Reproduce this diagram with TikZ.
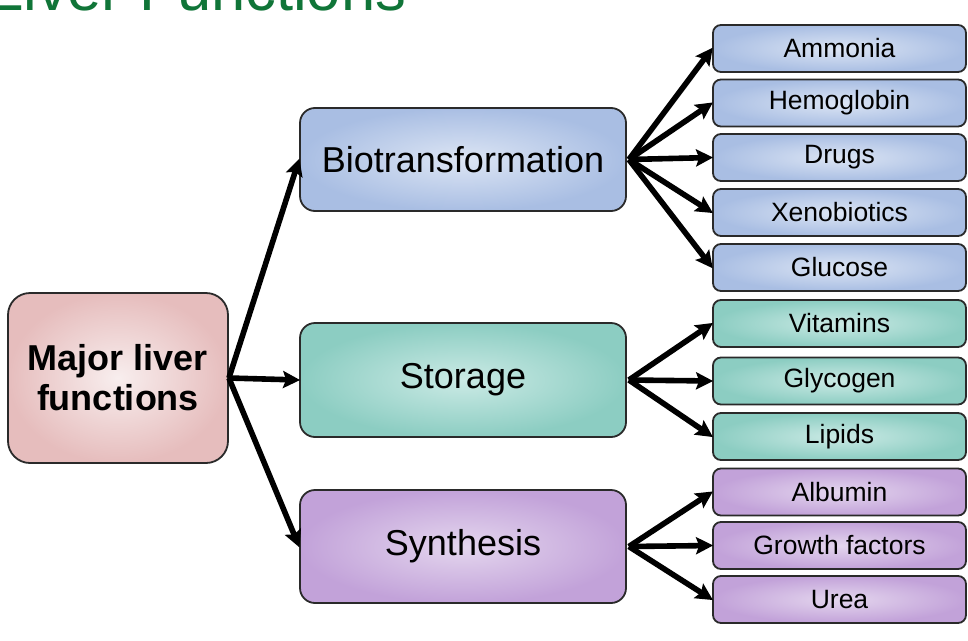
\documentclass[tikz,border=0pt]{standalone}
\usepackage{fontspec}
\setmainfont{Liberation Sans}
\usetikzlibrary{arrows.meta}
\definecolor{titlegreen}{HTML}{107538}
\definecolor{pinkout}{HTML}{E6BDBD}
\definecolor{pinkin}{HTML}{F8EEEE}
\definecolor{blueout}{HTML}{A9BEE3}
\definecolor{bluein}{HTML}{DCE5F4}
\definecolor{tealout}{HTML}{8CCDC2}
\definecolor{tealin}{HTML}{CBEAE5}
\definecolor{purpout}{HTML}{C2A2D9}
\definecolor{purpin}{HTML}{E4D6EE}
\definecolor{edgegray}{HTML}{2A2A2A}
\tikzset{
  boxbase/.style={draw=edgegray, line width=1.8pt, inner sep=0pt, align=center, text=black},
  bigbox/.style={boxbase, rounded corners=15pt, minimum width=326pt, minimum height=106pt, font=\fontsize{36}{40}\selectfont},
  smallbox/.style={boxbase, rounded corners=8pt, minimum width=253pt, minimum height=47pt, font=\fontsize{26.5}{30}\selectfont},
  bluefill/.style={inner color=bluein, outer color=blueout},
  tealfill/.style={inner color=tealin, outer color=tealout},
  purpfill/.style={inner color=purpin, outer color=purpout},
  arr/.style={line width=5.6pt, -{Stealth[length=17pt,width=17pt,inset=3pt]}, shorten >=-1pt}
}
\newcommand{\lowtext}[1]{\raisebox{-2pt}{#1}}
\begin{document}
\begin{tikzpicture}[x=1pt,y=-1pt]
\clip (0,0) rectangle (968,640);
\fill[white] (0,0) rectangle (968,640);
\node[anchor=base west, text=titlegreen, inner sep=0pt, font=\fontsize{61.5}{64}\selectfont] (title) at (-11,10) {Liver Functions};

\node[boxbase, rounded corners=22pt, minimum width=220pt, minimum height=170pt, inner color=pinkin, outer color=pinkout, font=\fontsize{36}{40}\bfseries\selectfont] (major) at (118,378) {Major liver\\functions};

\node[bigbox, bluefill, minimum height=103pt] (bio) at (463,159.5) {Biotransformation};
\node[bigbox, tealfill, minimum height=114pt] (sto) at (463,380) {Storage};
\node[bigbox, purpfill, minimum height=113pt] (syn) at (463,546.5) {Synthesis};

\node[smallbox, bluefill] (amm) at (839.5,48.5) {\lowtext{Ammonia}};
\node[smallbox, bluefill] (hem) at (839.5,103) {\lowtext{Hemoglobin}};
\node[smallbox, bluefill] (dru) at (839.5,157.5) {\lowtext{Drugs}};
\node[smallbox, bluefill] (xen) at (839.5,212.5) {\lowtext{Xenobiotics}};
\node[smallbox, bluefill] (glu) at (839.5,267.5) {\lowtext{Glucose}};

\node[smallbox, tealfill] (vit) at (839.5,323.5) {\lowtext{Vitamins}};
\node[smallbox, tealfill] (gly) at (839.5,381) {\lowtext{Glycogen}};
\node[smallbox, tealfill] (lip) at (839.5,436.5) {\lowtext{Lipids}};

\node[smallbox, purpfill] (alb) at (839.5,492) {\lowtext{Albumin}};
\node[smallbox, purpfill] (gro) at (839.5,545.5) {\lowtext{Growth factors}};
\node[smallbox, purpfill] (ure) at (839.5,599.5) {\lowtext{Urea}};

\draw[arr] (major.east) -- (bio.west);
\draw[arr] (major.east) -- (sto.west);
\draw[arr] (major.east) -- (syn.west);

\foreach \t in {amm,hem,dru,xen,glu} \draw[arr] ([xshift=2pt]bio.east) -- (\t.west);
\foreach \t in {vit,gly,lip} \draw[arr] ([xshift=2pt]sto.east) -- (\t.west);
\foreach \t in {alb,gro,ure} \draw[arr] ([xshift=2pt]syn.east) -- (\t.west);
\end{tikzpicture}
\end{document}
